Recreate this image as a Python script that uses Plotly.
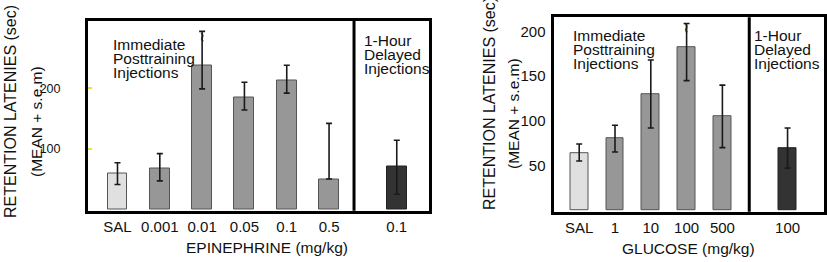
import plotly.graph_objects as go

# ---------------- data ----------------
epi_labels = ["SAL", "0.001", "0.01", "0.05", "0.1", "0.5"]
epi_means = [60, 67, 238, 185, 213, 50]
epi_err_up = [17, 25, 56, 25, 25, 92]
epi_err_down = [19, 20, 39, 21, 21, 0]
epi_delayed_label = "0.1"
epi_delayed_mean = [70]
epi_delayed_up = [44]
epi_delayed_down = [45]

glu_labels = ["SAL", "1", "10", "100", "500"]
glu_means = [64, 80, 130, 182, 105]
glu_err_up = [10, 15, 38, 27, 35]
glu_err_down = [9, 15, 38, 37, 35]
glu_delayed_label = "100"
glu_delayed_mean = [69]
glu_delayed_up = [23]
glu_delayed_down = [22]

epi_yticks = [100, 200]
glu_yticks = [50, 100, 150, 200]

# ---------------- style ----------------
W, H = 827, 262
FONT = "Liberation Sans, Arial, sans-serif"
SAL_COL = "#e0e0e0"
MID_COL = "#979797"
DARK_COL = "#333333"
EDGE = "#555555"
ERR = "#1a1a1a"


def px(x):
    return x / W


def py(y):
    return 1 - y / H


fig = go.Figure()


def add_panel(xa, ya, labels, means, up, down, dlabel, dmean, dup, ddown,
              gap, barw, broken_idx):
    xs = list(range(len(labels)))
    cols = [SAL_COL] + [MID_COL] * (len(labels) - 1)
    fig.add_trace(go.Bar(
        x=xs, y=means, width=barw, xaxis=xa, yaxis=ya,
        marker=dict(color=cols, line=dict(color=EDGE, width=1)),
        error_y=dict(type="data", symmetric=False, array=up, arrayminus=down,
                     color=ERR, thickness=1.6, width=3),
        showlegend=False, hoverinfo="skip"))
    dx = [xs[-1] + gap]
    fig.add_trace(go.Bar(
        x=dx, y=dmean, width=barw, xaxis=xa, yaxis=ya,
        marker=dict(color=DARK_COL, line=dict(color="#222222", width=1)),
        error_y=dict(type="data", symmetric=False, array=dup, arrayminus=ddown,
                     color=ERR, thickness=1.6, width=3),
        showlegend=False, hoverinfo="skip"))
    fig.add_annotation(x=xs[broken_idx], y=means[broken_idx] + up[broken_idx] * 0.82,
                       xref=xa, yref=ya, text="<b>≀</b>", showarrow=False,
                       font=dict(family=FONT, size=12, color=ERR))
    return xs + dx, labels + [dlabel]


lx, lt = add_panel("x", "y", epi_labels, epi_means, epi_err_up, epi_err_down,
                   epi_delayed_label, epi_delayed_mean, epi_delayed_up, epi_delayed_down,
                   1.6, 0.47, 2)
rx, rt = add_panel("x2", "y2", glu_labels, glu_means, glu_err_up, glu_err_down,
                   glu_delayed_label, glu_delayed_mean, glu_delayed_up, glu_delayed_down,
                   1.82, 0.5, 3)

axis_common = dict(showline=True, linecolor="black", linewidth=3, mirror=True,
                   showgrid=False, zeroline=False, fixedrange=True)

fig.update_layout(
    width=W, height=H, margin=dict(l=0, r=0, t=0, b=0),
    paper_bgcolor="white", plot_bgcolor="white",
    font=dict(family=FONT, color="#111111"),
    bargap=0,
    xaxis=dict(domain=[px(88), px(428.5)], range=[-0.697, 7.35],
               tickvals=lx, ticktext=lt, ticks="", ticklabelstandoff=0,
               tickfont=dict(size=15), anchor="y", **axis_common),
    yaxis=dict(domain=[py(210.8), py(20.5)], range=[-2.4, 311.9],
               tickvals=epi_yticks, ticks="inside", ticklen=4, tickwidth=2,
               tickcolor="#e8e23a", ticklabelstandoff=22,
               tickfont=dict(size=12.5), anchor="x", **axis_common),
    xaxis2=dict(domain=[px(553.5), px(823.5)], range=[-0.718, 6.824],
                tickvals=rx, ticktext=rt, ticks="", ticklabelstandoff=0,
                tickfont=dict(size=15), anchor="y2", **axis_common),
    yaxis2=dict(domain=[py(211.8), py(17.2)], range=[-1.87, 216],
                tickvals=glu_yticks, ticks="", ticklabelstandoff=2,
                tickfont=dict(size=15), anchor="x2", **axis_common),
)

fig.add_shape(type="line", xref="x", yref="y domain",
              x0=len(epi_labels) - 1 + 0.59, x1=len(epi_labels) - 1 + 0.59, y0=0, y1=1,
              line=dict(color="black", width=3))
fig.add_shape(type="line", xref="x2", yref="y2 domain",
              x0=len(glu_labels) - 1 + 0.75, x1=len(glu_labels) - 1 + 0.75, y0=0, y1=1,
              line=dict(color="black", width=3))


def txt(x, y, s, size=15.5, angle=0, xanchor="left"):
    fig.add_annotation(x=px(x), y=py(y), xref="paper", yref="paper", text=s,
                       showarrow=False, xanchor=xanchor, yanchor="middle",
                       textangle=angle, font=dict(family=FONT, size=size, color="#111111"))


for i, s in enumerate(["Immediate", "Posttraining", "Injections"]):
    txt(111, 44 + 14 * i, s)
    txt(570.5, 35 + 14 * i, s)
for i, s in enumerate(["1-Hour", "Delayed", "Injections"]):
    txt(362, 41 + 13.5 * i, s)
    txt(752, 35 + 14 * i, s)

txt(266.7, 247, "EPINEPHRINE (mg/kg)", size=15.5, xanchor="center")
txt(688, 248, "GLUCOSE (mg/kg)", size=15.5, xanchor="center")
txt(10, 112, "RETENTION LATENIES (sec)", size=16, angle=-90, xanchor="center")
txt(36, 122, "(MEAN + s.e.m)", size=15.5, angle=-90, xanchor="center")
txt(489, 104, "RETENTION LATENIES (sec)", size=16, angle=-90, xanchor="center")
txt(514, 114, "(MEAN + s.e.m)", size=15.5, angle=-90, xanchor="center")

fig.write_html("out.html", config={"displayModeBar": False},
               post_script="document.body.style.margin='0';document.body.style.padding='0';")
